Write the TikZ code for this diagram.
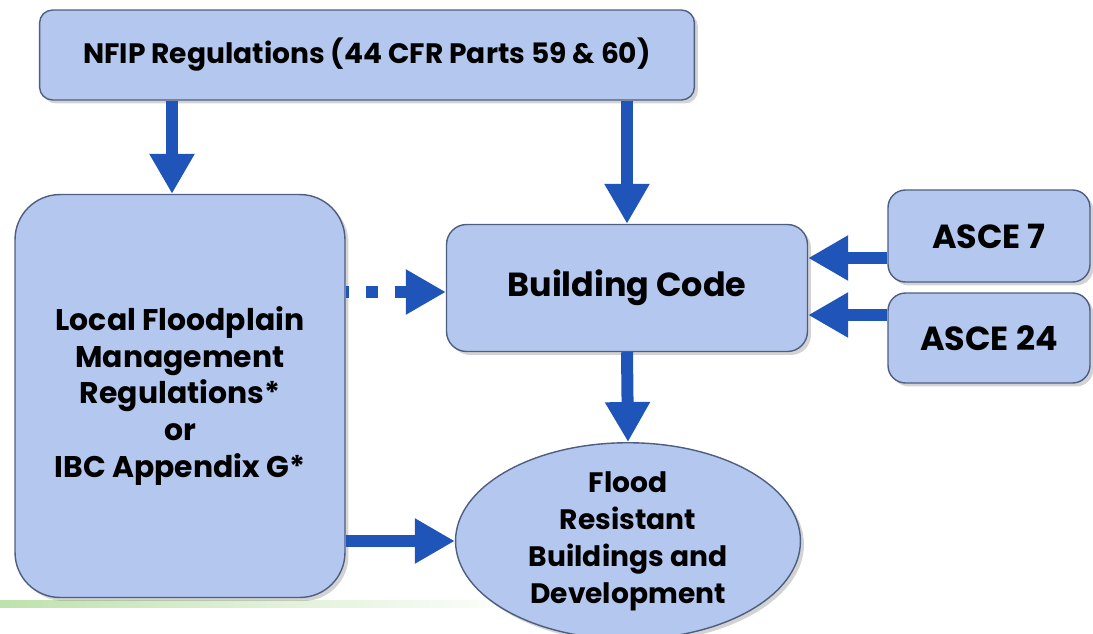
\documentclass[tikz,border=0pt]{standalone}
\usepackage{fontspec}
\setmainfont{Poppins}
\usetikzlibrary{arrows.meta,shadows,shapes.geometric}
\definecolor{boxfill}{RGB}{180,199,238}
\definecolor{boxline}{RGB}{78,94,128}
\definecolor{flowblue}{RGB}{31,85,185}
\definecolor{slidegreen}{RGB}{190,226,172}

\begin{document}
\begin{tikzpicture}[x=0.02cm,y=-0.02cm,
    box/.style={draw=boxline,thick,fill=boxfill,align=center,inner sep=0pt,
      font=\bfseries,drop shadow={shadow xshift=0.07cm,shadow yshift=-0.07cm,opacity=0.35}},
    flow/.style={draw=flowblue,line width=0.24cm,-{Triangle[width=0.85cm,length=0.8cm]}},
    dotflow/.style={flow,dash pattern=on 0.24cm off 0.34cm,dash phase=0.18cm}]
      \useasboundingbox (0,0) rectangle (1093,633);
      \shade[left color=slidegreen,right color=white] (0,600) rectangle (530,607);

      \node[box,rounded corners=0.26cm,minimum width=13.1cm,minimum height=1.8cm,
        font=\bfseries\fontsize{16}{20}\selectfont] (nfip) at (367,55)
        {NFIP Regulations (44 CFR Parts 59 \& 60)};
      \node[box,rounded corners=0.9cm,minimum width=6.6cm,minimum height=8.06cm,
        font=\bfseries\fontsize{17}{21}\selectfont] (local) at (180,396)
        {Local Floodplain\\Management\\Regulations*\\or\\IBC Appendix G*};
      \node[box,rounded corners=0.4cm,minimum width=7.22cm,minimum height=2.54cm,
        font=\bfseries\fontsize{19}{23}\selectfont] (bcode) at (627,288) {Building Code};
      \node[box,rounded corners=0.35cm,minimum width=4.04cm,minimum height=1.84cm,
        font=\bfseries\fontsize{19}{23}\selectfont] (asce7) at (989,236) {ASCE 7};
      \node[box,rounded corners=0.35cm,minimum width=4.04cm,minimum height=1.8cm,
        font=\bfseries\fontsize{19}{23}\selectfont] (asce24) at (989,338) {ASCE 24};
      \node[box,ellipse,minimum width=6.9cm,minimum height=3.56cm,
        font=\bfseries\fontsize{16}{21}\selectfont] (flood) at (628,541)
        {Flood\\Resistant\\Buildings and\\Development};

      \draw[flow] ([xshift=-0.16cm]local.north |- nfip.south) -- ([xshift=-0.16cm]local.north);
      \draw[flow] (bcode.north |- nfip.south) -- (bcode.north);
      \draw[dotflow] ([yshift=-0.08cm]local.east |- bcode.west) -- ([yshift=-0.08cm]bcode.west);
      \draw[flow] ([yshift=-0.44cm]asce7.west) -- ([yshift=-0.44cm]asce7.west -| bcode.east);
      \draw[flow] ([yshift=0.46cm]asce24.west) -- ([yshift=0.46cm]asce24.west -| bcode.east);
      \draw[flow] (bcode.south) -- (flood.north);
      \draw[flow] (local.east |- flood.west) -- (flood.west);
    \end{tikzpicture}
\end{document}
